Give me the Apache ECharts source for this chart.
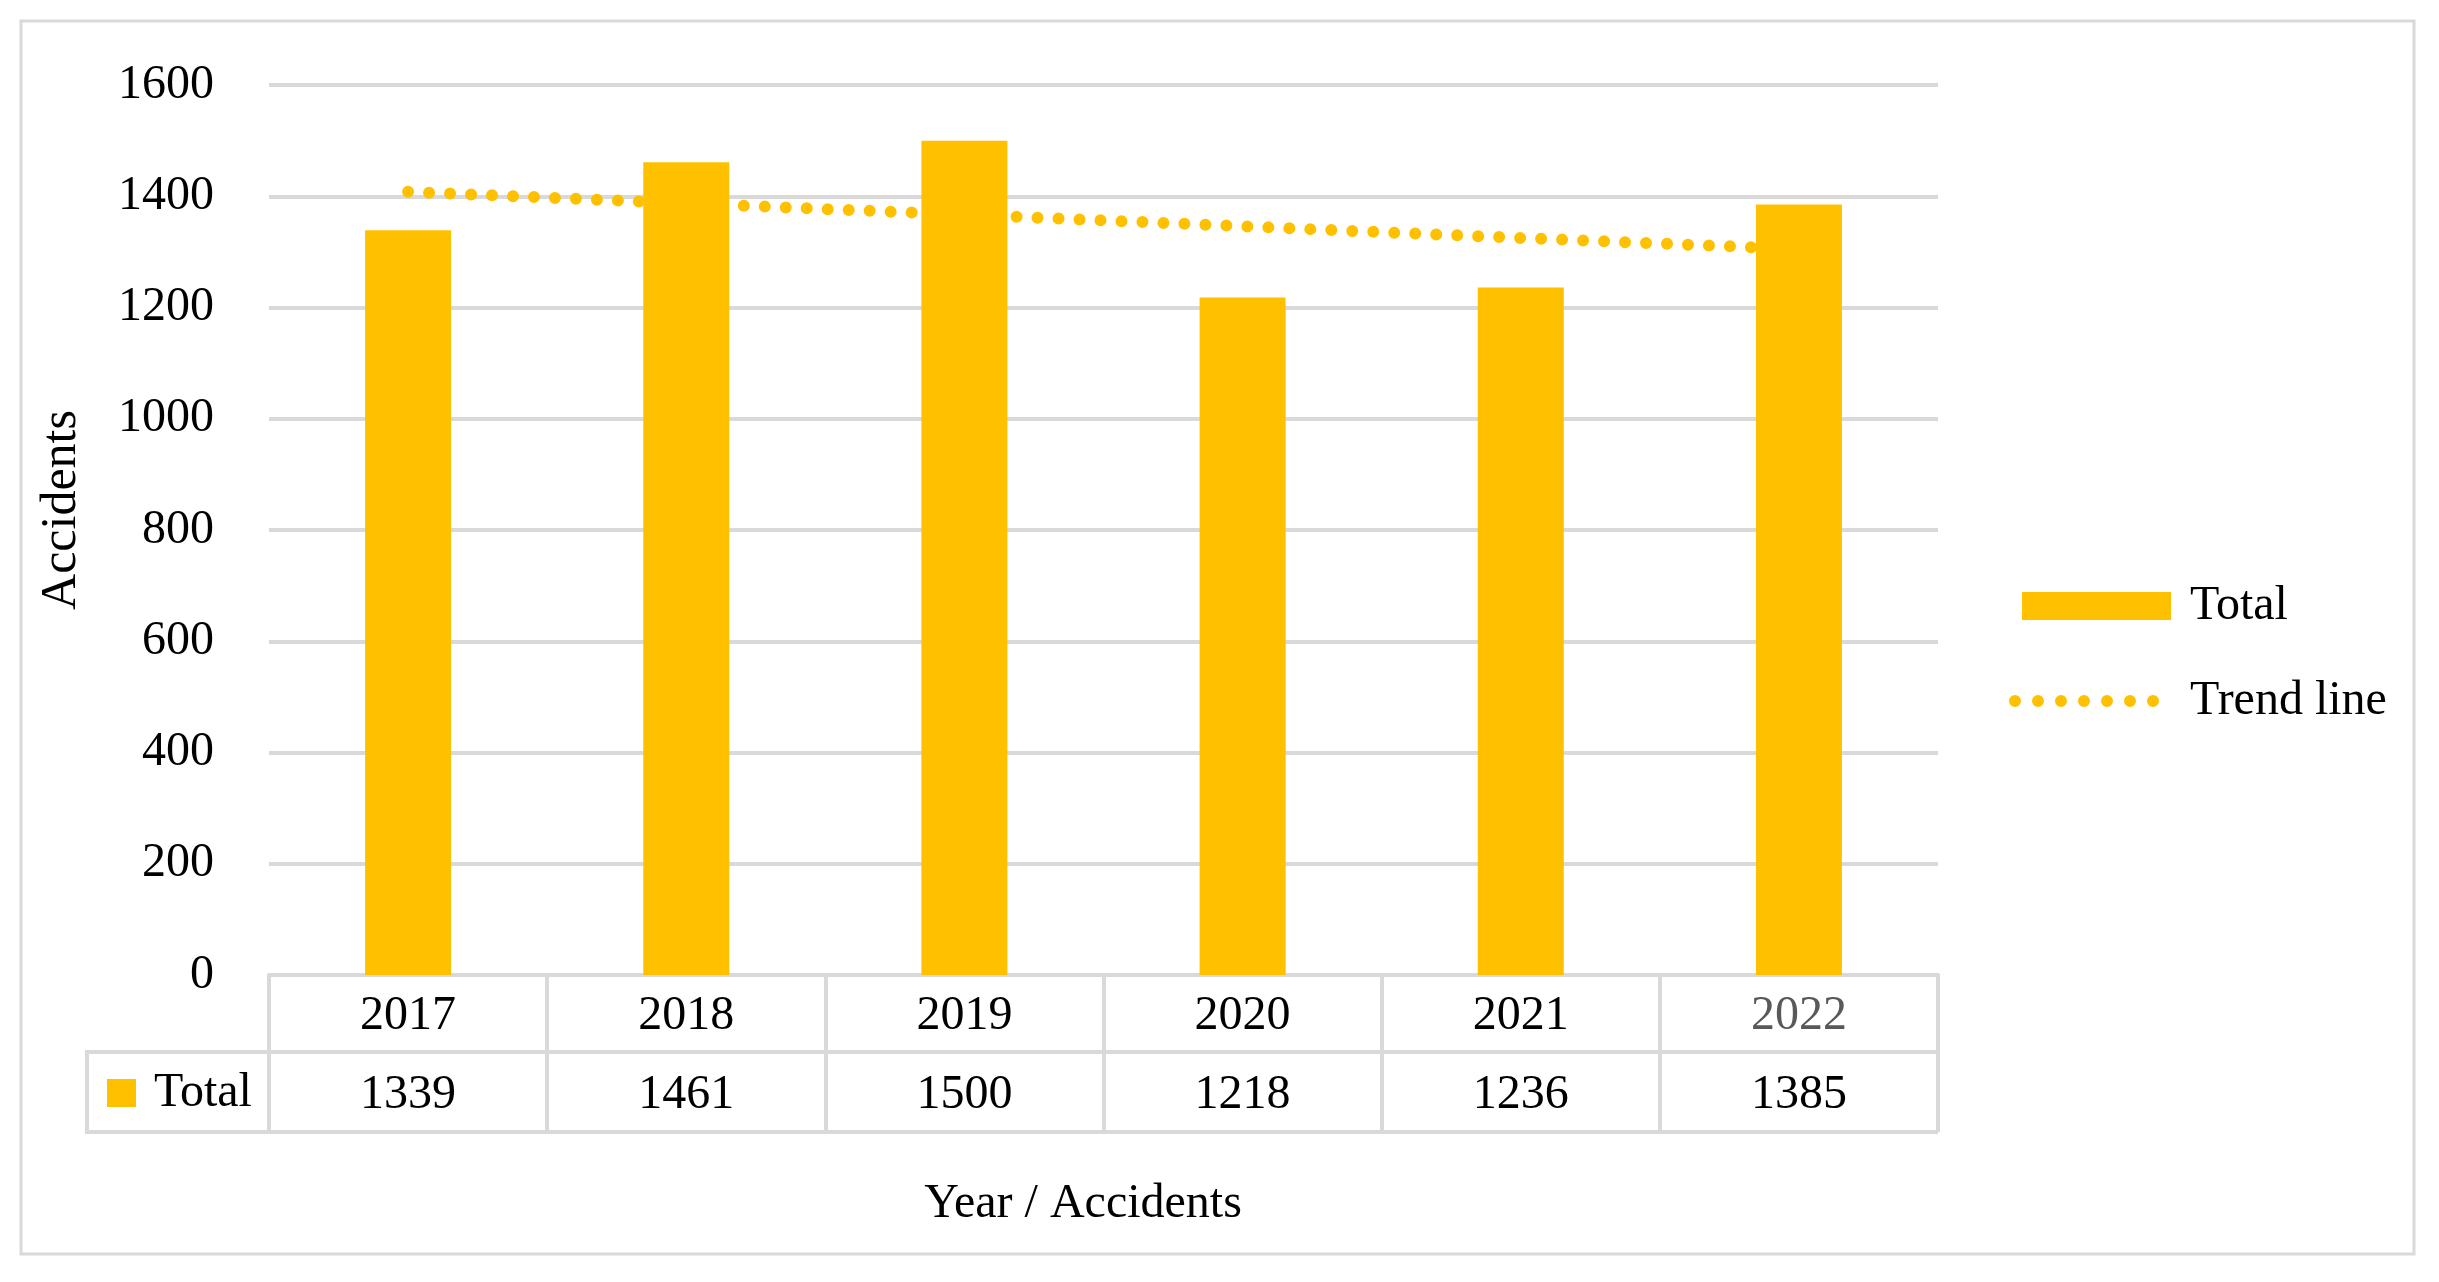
<!DOCTYPE html>
<html>
<head>
<meta charset="utf-8">
<script src="https://cdn.jsdelivr.net/npm/echarts@6/dist/echarts.min.js"></script>
<style>
html,body{margin:0;padding:0;background:#fff;}
#chart{width:2439px;height:1282px;}
</style>
</head>
<body>
<div id="chart"></div>
<script>
// ---- data ----
var years = ['2017', '2018', '2019', '2020', '2021', '2022'];
var totals = [1339, 1461, 1500, 1218, 1236, 1385];
var trendValues = [1408, 1387, 1367, 1346, 1325, 1305];
var yTicks = [0, 200, 400, 600, 800, 1000, 1200, 1400, 1600];

// ---- layout ----
var W = 2439, H = 1282;
var GRID_LEFT = 269, GRID_RIGHT_X = 1938, GRID_TOP = 85, AXIS_Y = 975;
var ROW1_Y = 1052, ROW2_Y = 1132, TABLE_LEFT = 87;
var FONT = "'Liberation Serif', 'Times New Roman', serif";
var GOLD = '#FFC000';
var LINE_GRAY = '#d9d9d9';

// dotted legend icon: 7 round dots
function dotsPath(n, step, d) {
  var r = d / 2, p = '';
  for (var i = 0; i < n; i++) {
    var cx = i * step;
    p += 'M' + cx + ',' + r + 'a' + r + ',' + r + ' 0 1,0 ' + d + ',0a' + r + ',' + r + ' 0 1,0 ' + (-d) + ',0Z';
  }
  return 'path://' + p;
}

var chart = echarts.init(document.getElementById('chart'), null, {renderer: 'canvas'});

var legendText = {fontFamily: FONT, fontSize: 48, lineHeight: 48, color: '#000'};

var option = {
  backgroundColor: '#fff',
  animation: false,
  textStyle: {fontFamily: FONT},
  grid: {
    left: GRID_LEFT,
    right: W - GRID_RIGHT_X,
    top: GRID_TOP,
    bottom: H - AXIS_Y,
    containLabel: false,
    outerBoundsMode: 'none'
  },
  legend: [
    {
      orient: 'vertical',
      left: 2022,
      top: 582,
      padding: 0,
      itemWidth: 149,
      itemHeight: 28,
      selectedMode: false,
      data: [{name: 'Total', icon: 'rect'}],
      textStyle: Object.assign({padding: [0, 0, 0, 14]}, legendText)
    },
    {
      orient: 'vertical',
      left: 2009,
      top: 677,
      padding: 0,
      itemWidth: 150,
      itemHeight: 12,
      selectedMode: false,
      data: [{name: 'Trend line', icon: dotsPath(7, 23, 12), itemStyle: {color: GOLD}}],
      textStyle: Object.assign({padding: [0, 0, 0, 26]}, legendText)
    },
    {
      orient: 'horizontal',
      left: 107,
      top: 1066,
      padding: 0,
      itemWidth: 29,
      itemHeight: 28,
      selectedMode: false,
      data: [{name: 'Total', icon: 'rect'}],
      textStyle: Object.assign({padding: [6, 0, 0, 13]}, legendText)
    }
  ],
  xAxis: [
    {
      type: 'category',
      data: years,
      position: 'bottom',
      boundaryGap: true,
      axisLine: {show: true, lineStyle: {color: LINE_GRAY, width: 4}},
      axisTick: {show: true, interval: 0, length: ROW2_Y - AXIS_Y, lineStyle: {color: LINE_GRAY, width: 4}},
      axisLabel: {
        interval: 0,
        margin: (ROW1_Y - AXIS_Y) / 2 + 3,
        verticalAlign: 'middle',
        fontFamily: FONT,
        fontSize: 48,
        color: function (value, index) { return value === '2022' ? '#595959' : '#000'; }
      },
      splitLine: {show: false}
    },
    {
      type: 'category',
      data: years,
      position: 'bottom',
      boundaryGap: true,
      axisLine: {show: false},
      axisTick: {show: false},
      axisLabel: {
        interval: 0,
        margin: (ROW1_Y + ROW2_Y) / 2 - AXIS_Y + 3,
        verticalAlign: 'middle',
        fontFamily: FONT,
        fontSize: 48,
        color: '#000',
        formatter: function (value, index) { return String(totals[index]); }
      },
      splitLine: {show: false}
    }
  ],
  yAxis: {
    type: 'value',
    min: yTicks[0],
    max: yTicks[yTicks.length - 1],
    interval: 200,
    axisLine: {show: false},
    axisTick: {show: false},
    axisLabel: {
      margin: 55, fontFamily: FONT, fontSize: 48, color: '#000',
      formatter: function (v) { return String(v); }
    },
    splitLine: {show: true, lineStyle: {color: LINE_GRAY, width: 4}}
  },
  series: [
    {
      name: 'Total',
      type: 'bar',
      xAxisIndex: 0,
      data: totals,
      barWidth: 86,
      itemStyle: {color: GOLD},
      z: 3
    },
    {
      name: 'Trend line',
      type: 'line',
      xAxisIndex: 0,
      data: trendValues,
      symbol: 'none',
      showSymbol: false,
      color: GOLD,
      itemStyle: {color: GOLD},
      lineStyle: {color: GOLD, width: 12, type: [0, 21], cap: 'round'},
      z: 2
    }
  ],
  graphic: [
    {
      type: 'rect',
      shape: {x: 21, y: 21, width: 2414 - 21, height: 1254 - 21},
      style: {fill: 'none', stroke: LINE_GRAY, lineWidth: 3},
      z: -1
    },
    {
      type: 'line',
      shape: {x1: TABLE_LEFT, y1: ROW1_Y, x2: GRID_RIGHT_X, y2: ROW1_Y},
      style: {stroke: LINE_GRAY, lineWidth: 4}
    },
    {
      type: 'line',
      shape: {x1: TABLE_LEFT, y1: ROW2_Y, x2: GRID_RIGHT_X, y2: ROW2_Y},
      style: {stroke: LINE_GRAY, lineWidth: 4}
    },
    {
      type: 'line',
      shape: {x1: TABLE_LEFT, y1: ROW1_Y - 2, x2: TABLE_LEFT, y2: ROW2_Y + 2},
      style: {stroke: LINE_GRAY, lineWidth: 4}
    },
    {
      type: 'text',
      x: 62,
      y: 510,
      rotation: Math.PI / 2,
      style: {text: 'Accidents', fontFamily: FONT, fontSize: 50, fill: '#000', align: 'center', verticalAlign: 'middle'}
    },
    {
      type: 'text',
      x: 1083,
      y: 1204,
      style: {text: 'Year / Accidents', fontFamily: FONT, fontSize: 48, fill: '#000', align: 'center', verticalAlign: 'middle'}
    }
  ]
};

chart.setOption(option);
</script>
</body>
</html>
